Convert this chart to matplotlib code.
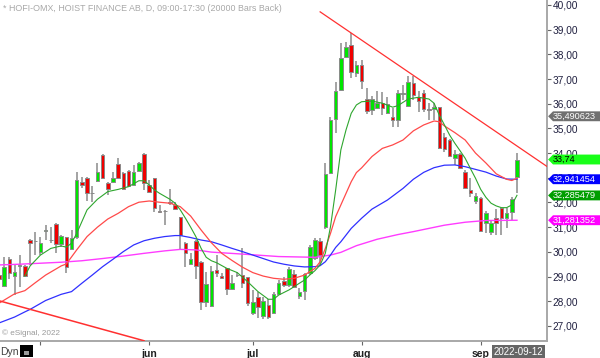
import matplotlib
matplotlib.use('Agg')
import matplotlib.pyplot as plt
from matplotlib.patches import Rectangle, Polygon
from matplotlib import transforms

plt.rcParams['font.family'] = ['Liberation Sans', 'DejaVu Sans']

# daily bars, 2022-04-20 .. 2022-09-12 (index = trading day)
opens = [29.05, 28.63, 29.71, 29.04, 29.43, 29.43, 30.48, 30.43, 30.01, 30.85,
         30.48, 31.14, 30.31, 30.59, 30.10, 30.62, 32.84, 33.01, 32.37, 32.88,
         33.92, 32.80, 32.82, 33.56, 33.18, 33.28, 32.71, 33.28, 33.96, 32.71,
         33.01, 31.66, 31.67, 32.02, 31.90, 31.40, 30.37, 29.50, 30.46, 29.60,
         27.98, 27.82, 29.27, 29.02, 29.33, 28.48, 29.05, 29.06, 28.97, 27.51,
         28.19, 27.40, 27.85, 27.51, 28.28, 28.83, 28.66, 29.10, 28.21, 28.43,
         29.13, 29.74, 30.44, 31.00, 33.18, 35.37, 36.56, 37.88, 38.38, 37.26,
         37.57, 36.19, 35.75, 35.82, 36.02, 35.64, 35.45, 35.32, 36.41, 35.91,
         36.85, 36.29, 36.45, 35.77, 35.77, 35.85, 34.64, 34.53, 33.79, 33.95,
         33.25, 32.51, 32.04, 32.20, 31.16, 30.79, 31.36, 31.76, 31.36, 31.60,
         33.02]
highs = [29.13, 29.78, 29.78, 29.51, 29.87, 29.47, 30.51, 30.82, 30.62, 31.07,
         30.99, 31.18, 30.68, 30.62, 30.89, 33.25, 33.05, 33.05, 32.67, 33.59,
         33.96, 32.84, 33.25, 33.79, 33.22, 33.32, 33.52, 33.65, 33.99, 32.91,
         33.01, 31.90, 31.70, 32.53, 32.03, 31.43, 30.41, 29.94, 30.48, 29.64,
         29.20, 29.43, 29.87, 29.16, 29.36, 29.06, 29.20, 30.17, 28.99, 28.46,
         28.39, 28.19, 28.09, 28.39, 28.86, 28.99, 29.40, 29.27, 28.52, 29.16,
         30.28, 30.55, 30.55, 33.59, 35.48, 36.89, 38.47, 38.51, 38.88, 37.74,
         37.77, 36.65, 36.31, 36.53, 36.49, 36.29, 35.84, 36.56, 36.76, 37.12,
         37.12, 36.53, 36.56, 36.02, 36.02, 35.88, 34.80, 34.56, 34.13, 34.02,
         33.32, 32.98, 32.40, 32.24, 31.67, 31.29, 31.72, 31.79, 31.76, 32.24,
         34.02]
lows = [28.79, 28.59, 28.89, 28.25, 28.59, 28.97, 29.47, 29.87, 29.87, 30.48,
        30.37, 29.94, 30.21, 29.16, 30.08, 30.51, 32.57, 32.07, 32.03, 32.84,
        32.98, 32.30, 32.78, 32.94, 32.51, 32.64, 32.68, 33.25, 32.51, 32.37,
        31.63, 31.56, 31.09, 31.90, 31.70, 30.10, 29.40, 29.47, 28.89, 27.65,
        27.78, 27.78, 28.97, 28.89, 28.25, 28.46, 28.99, 28.52, 27.82, 27.44,
        27.31, 27.28, 27.28, 27.48, 28.24, 28.59, 28.59, 28.52, 28.08, 28.05,
        29.06, 29.67, 29.47, 30.91, 33.18, 34.83, 36.53, 37.84, 37.03, 37.07,
        36.58, 35.57, 35.55, 35.77, 35.55, 35.57, 35.05, 35.07, 36.15, 35.86,
        36.15, 35.68, 35.68, 35.34, 35.34, 34.15, 34.06, 33.86, 33.52, 33.34,
        32.53, 32.24, 31.94, 30.82, 30.78, 30.68, 30.68, 30.68, 30.95, 31.29,
        32.37]
closes = [28.89, 29.39, 29.13, 29.20, 29.44, 29.02, 30.35, 30.44, 30.35, 30.87,
          30.50, 30.33, 30.66, 29.40, 30.58, 32.91, 32.71, 32.37, 32.39, 33.22,
          33.01, 32.53, 32.98, 32.98, 32.55, 32.68, 33.25, 33.59, 32.78, 32.41,
          31.76, 31.63, 31.64, 31.99, 31.74, 30.68, 29.94, 29.71, 29.43, 27.98,
          28.70, 29.23, 29.16, 28.93, 28.48, 28.75, 29.08, 28.73, 27.92, 27.98,
          27.78, 28.03, 27.38, 28.28, 28.75, 28.66, 29.29, 28.59, 28.39, 29.09,
          30.18, 30.48, 29.87, 33.14, 35.34, 36.53, 37.84, 38.31, 37.30, 37.57,
          36.90, 35.72, 36.19, 36.02, 35.82, 35.99, 35.32, 36.42, 36.43, 36.89,
          36.36, 36.12, 35.77, 35.75, 35.85, 34.19, 34.15, 33.88, 33.95, 33.38,
          32.57, 32.37, 32.26, 30.85, 31.59, 31.18, 31.18, 31.36, 31.59, 32.13,
          33.74]

# moving averages (bar index, value)
ma_green_x = [5, 6, 8, 10, 12, 13, 14, 15, 17, 19, 21, 23, 25, 27, 28, 29, 30, 31, 33, 34,
              35, 36, 37, 38, 39, 40, 41, 42, 44, 46, 48, 50, 52, 53, 54, 56, 58, 59, 60, 61,
              62, 63, 64, 65, 66, 67, 68, 69, 70, 72, 74, 76, 77, 79, 81, 83, 84, 85, 86, 87,
              88, 89, 90, 91, 92, 93, 94, 95, 96, 97, 98, 99, 100]
ma_green = [29.02, 29.43, 29.87, 30.14, 30.24, 30.19, 30.35, 30.75, 31.70, 32.13, 32.44, 32.53,
            32.64, 32.88, 32.88, 32.71, 32.51, 32.37, 32.13, 31.97, 31.70, 31.36, 31.00, 30.62,
            30.15, 29.78, 29.64, 29.56, 29.33, 29.16, 28.79, 28.39, 28.08, 28.08, 28.25, 28.46,
            28.73, 28.86, 29.06, 29.24, 29.47, 29.94, 31.02, 32.51, 34.13, 34.94, 35.61, 35.95,
            36.08, 36.11, 36.02, 35.86, 35.92, 36.19, 36.26, 36.19, 36.02, 35.54, 35.14, 34.73,
            34.40, 34.10, 33.79, 33.38, 32.98, 32.53, 32.21, 31.97, 31.86, 31.79, 31.79, 31.90,
            32.29]
ma_red_x = [0, 3, 5, 7, 9, 12, 13, 15, 17, 19, 21, 23, 25, 27, 29, 31, 33, 35, 37, 39, 41, 43,
            45, 47, 49, 51, 53, 55, 57, 59, 60, 61, 62, 63, 64, 65, 66, 67, 68, 69, 70, 72, 74,
            76, 78, 80, 82, 84, 85, 86, 88, 90, 92, 94, 96, 98, 99, 100]
ma_red = [27.92, 28.30, 28.43, 28.75, 29.06, 29.43, 29.51, 30.08, 30.62, 31.00, 31.33, 31.56,
          31.83, 32.01, 32.06, 32.01, 31.97, 31.83, 31.45, 30.89, 30.37, 29.94, 29.65, 29.38,
          29.16, 29.02, 28.93, 28.89, 28.93, 29.06, 29.20, 29.33, 29.60, 30.14, 30.75, 31.43,
          31.90, 32.37, 32.84, 33.21, 33.40, 33.86, 34.19, 34.33, 34.53, 34.90, 35.14, 35.30,
          35.27, 35.10, 34.83, 34.53, 34.00, 33.60, 33.16, 32.94, 32.89, 32.98]
ma_blue_x = [0, 3, 5, 6, 9, 12, 14, 16, 18, 20, 22, 24, 26, 28, 30, 32, 34, 35, 37, 39, 41, 43,
             45, 47, 49, 51, 53, 55, 57, 59, 61, 62, 63, 64, 65, 66, 68, 70, 72, 75, 78, 80, 82,
             84, 86, 88, 90, 92, 94, 96, 98, 100]
ma_blue = [27.12, 27.36, 27.57, 27.67, 28.03, 28.28, 28.39, 28.73, 29.06, 29.40, 29.70, 30.01,
           30.28, 30.45, 30.55, 30.62, 30.66, 30.66, 30.58, 30.48, 30.41, 30.28, 30.14, 30.01,
           29.87, 29.73, 29.59, 29.50, 29.43, 29.39, 29.40, 29.44, 29.60, 29.87, 30.18, 30.41,
           30.95, 31.36, 31.73, 32.10, 32.57, 32.94, 33.22, 33.41, 33.51, 33.52, 33.45, 33.34,
           33.23, 33.07, 32.95, 32.94]
ma_mag_x = [0, 4, 8, 12, 16, 20, 24, 28, 32, 35, 38, 41, 47, 54, 61, 64, 66, 69, 73, 77, 80,
            83, 86, 90, 94, 100]
ma_mag = [29.47, 29.50, 29.54, 29.58, 29.64, 29.73, 29.83, 29.94, 30.04, 30.10, 30.08, 29.99,
          29.91, 29.81, 29.78, 29.87, 29.98, 30.25, 30.51, 30.70, 30.82, 30.95, 31.08, 31.20,
          31.27, 31.28]

# trend lines
trend_hi_x = [62, 106]
trend_hi_y = [39.72, 33.43]
trend_lo_x = [0, 28]
trend_lo_y = [28.02, 26.40]

month_pos = [8, 29, 49, 70, 93]
month_lbl = ['', 'jun', 'jul', 'aug', 'sep']
yticks = list(range(27, 41))

# last values shown on the right price scale: value, text, bg, fg
flags = [(35.490623, '35,490623', '#707070', 'white'),
         (33.74, '33,74', '#19ff19', 'black'),
         (32.941454, '32,941454', '#0000ff', 'white'),
         (32.285479, '32,285479', '#009e00', 'white'),
         (31.281352, '31,281352', '#ff00ff', 'white')]

fig = plt.figure(figsize=(6, 3.58), dpi=100)
ax = fig.add_axes([0, 17 / 358, 547 / 600, 341 / 358])

w = 0.68
for i in range(len(closes)):
    o, h, l, c = opens[i], highs[i], lows[i], closes[i]
    ax.vlines(i, l, h, color='#8a8a8a', lw=1.1, zorder=2)
    col = '#00e600' if c >= o else '#f00000'
    bot = min(o, c)
    ht = max(abs(c - o), 0.02)
    ax.add_patch(Rectangle((i - w / 2, bot), w, ht, facecolor=col,
                           edgecolor='#8a8a8a', lw=0.7, zorder=3))

ax.plot(ma_mag_x, ma_mag, color='#ff3cff', lw=1.0, zorder=4)
ax.plot(ma_blue_x, ma_blue, color='#3030ff', lw=0.9, zorder=4)
ax.plot(ma_red_x, ma_red, color='#ff4a4a', lw=0.9, zorder=4)
ax.plot(ma_green_x, ma_green, color='#2ea62e', lw=0.8, zorder=4)
ax.plot(trend_hi_x, trend_hi_y, color='#ff3030', lw=0.9, zorder=4)
ax.plot(trend_lo_x, trend_lo_y, color='#ff3030', lw=1.1, zorder=4)

ax.set_xlim(0.19, 105.8)
ax.set_ylim(26.39, 40.2)

for s in ['top', 'left']:
    ax.spines[s].set_visible(False)
ax.spines['right'].set_color('#a8a8a8')
ax.spines['bottom'].set_color('#a8a8a8')
ax.spines['right'].set_linewidth(1.4)
ax.spines['bottom'].set_linewidth(1.4)

ax.yaxis.tick_right()
ax.set_yticks(yticks)
ax.set_yticklabels(['%d,00' % v for v in yticks])
ax.tick_params(axis='y', direction='out', length=3, width=0.8, color='#666666',
               labelsize=7.3, labelcolor='#202040', pad=1)
ax.set_xticks(month_pos)
ax.set_xticklabels(month_lbl, fontweight='bold')
ax.tick_params(axis='x', direction='out', length=3, width=0.8, color='#666666',
               labelsize=7.5, labelcolor='#202020', pad=3)

# flags on the price scale
tr = transforms.blended_transform_factory(ax.transAxes, ax.transData)
hh = 0.2
x0, x1, x2 = 1.002, 1.011, 1.097
for val, txt, bg, fg in flags:
    poly = Polygon([(x0, val), (x1, val + hh), (x2, val + hh), (x2, val - hh), (x1, val - hh)],
                   closed=True, transform=tr, facecolor=bg, edgecolor='none',
                   clip_on=False, zorder=10)
    ax.add_patch(poly)
    ax.text(1.011, val, txt, transform=tr, fontsize=6.6, color=fg, va='center',
            ha='left', zorder=11, clip_on=False)

fig.text(0.005, 0.977, '* HOFI-OMX, HOIST FINANCE AB, D, 09:00-17:30 (20000 Bars Back)',
         fontsize=6.4, color='#a8a8a8', va='center', ha='left')
fig.text(0.004, 0.07, '\u00a9 eSignal, 2022', fontsize=5.9, color='#9a9a9a',
         va='center', ha='left')
fig.text(0.0, 0.017, 'Dyn', fontsize=7.5, color='#404040', va='center', ha='left')
fig.patches.append(Rectangle((20 / 600, 1 / 358), 13 / 600, 12 / 358, facecolor='black',
                             transform=fig.transFigure, figure=fig))
fig.patches.append(Rectangle((24 / 600, 3 / 358), 5 / 600, 4 / 358, facecolor='#9a9a9a',
                             transform=fig.transFigure, figure=fig))
fig.text(823 / 1000, 0.017, '2022-09-12', fontsize=7, color='white', va='center', ha='left',
         bbox=dict(boxstyle='square,pad=0.15', facecolor='#666666', edgecolor='none'))

fig.savefig('out.png', dpi=100)
